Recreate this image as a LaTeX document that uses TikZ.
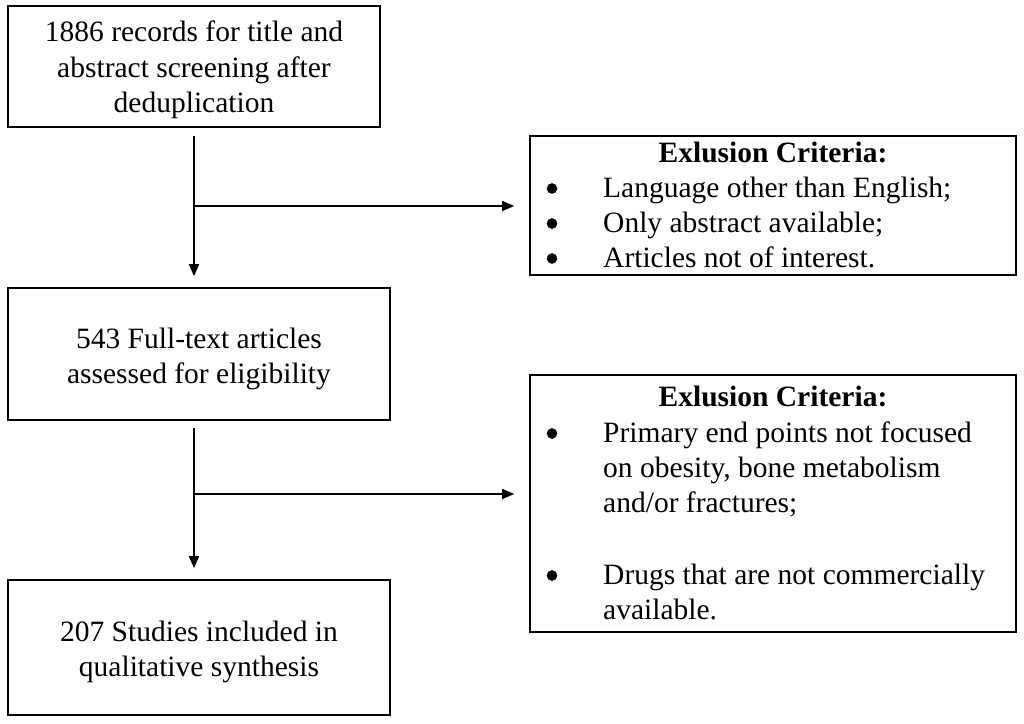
\documentclass[tikz,border=0pt]{standalone}
\usepackage{fontspec}
\setmainfont{Liberation Serif}
\usetikzlibrary{arrows.meta}
\begin{document}
\begin{tikzpicture}[x=1pt,y=-1pt,
  box/.style={draw, line width=1.6pt, inner sep=0pt},
  ctext/.style={inner sep=0pt, align=center, font=\fontsize{29.5}{35.5}\selectfont},
  txt/.style={inner sep=0pt, anchor=base west, font=\fontsize{29.5}{35}\selectfont},
  head/.style={inner sep=0pt, anchor=base, font=\fontsize{29.5}{35}\selectfont\bfseries},
  dot/.style={circle, draw=black, fill=black, line width=0.5pt, inner sep=0pt, minimum size=10pt},
  conn/.style={line width=1.6pt, -{Triangle[length=12pt,width=10pt]}},
]
\useasboundingbox (0,0) rectangle (1024,723);
% left column
\node[box, minimum width=372pt, minimum height=121pt] (b1) at (194,66.5) {};
\node[box, minimum width=382pt, minimum height=132pt] (b2) at (199,354) {};
\node[box, minimum width=382pt, minimum height=135pt] (b3) at (199,647.5) {};
\node[ctext] (t1) at (194,70) {1886 records for title and\\abstract screening after\\deduplication};
\node[ctext] (t2) at (199,359) {543 Full-text articles\\assessed for eligibility};
\node[ctext] (t3) at (199,652) {207 Studies included in\\qualitative synthesis};
% right column
\node[box, minimum width=486pt, minimum height=139pt] (e1) at (773,205.5) {};
\node[box, minimum width=486pt, minimum height=257pt] (e2) at (773,503.5) {};
% text of exclusion box 1
\node[head] (e1h) at (773,162) {Exlusion Criteria:};
\node[dot] (e1b1) at (552,188.5) {};
\node[txt] (e1t1) at (603,197) {Language other than English;};
\node[dot] (e1b2) at (552,223.5) {};
\node[txt] (e1t2) at (603,232) {Only abstract available;};
\node[dot] (e1b3) at (552,258.5) {};
\node[txt] (e1t3) at (603,267) {Articles not of interest.};
% text of exclusion box 2
\node[head] (e2h) at (773,406) {Exlusion Criteria:};
\node[dot] (e2b1) at (552,433.5) {};
\node[txt] (e2t1) at (603,442) {Primary end points not focused};
\node[txt] (e2t2) at (603,477) {on obesity, bone metabolism};
\node[txt] (e2t3) at (603,512) {and/or fractures;};
\node[dot] (e2b2) at (552,575.5) {};
\node[txt] (e2t4) at (603,584) {Drugs that are not commercially};
\node[txt] (e2t5) at (603,619) {available.};
% connectors
\coordinate (j1) at (194,206);
\coordinate (j2) at (194,494);
\coordinate (v1) at (194,127);
\coordinate (v2) at (194,420);
\draw[conn, shorten <=9pt, shorten >=11pt] (v1) -- (v1 |- b2.north);
\draw[conn, shorten >=15pt] (j1) -- (j1 -| e1.west);
\draw[conn, shorten <=8pt, shorten >=11pt] (v2) -- (v2 |- b3.north);
\draw[conn, shorten >=15pt] (j2) -- (j2 -| e2.west);
\end{tikzpicture}
\end{document}
